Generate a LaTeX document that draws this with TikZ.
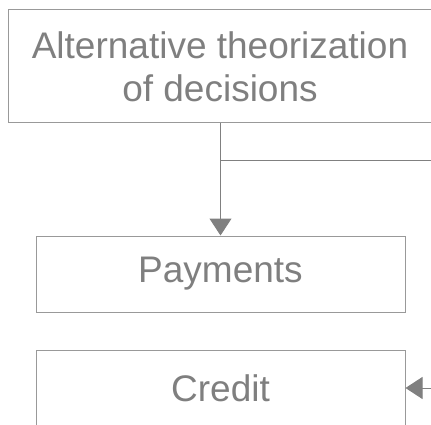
\documentclass[tikz,border=0pt]{standalone}
\usepackage{fontspec}
\setmainfont{Liberation Sans}
\usetikzlibrary{arrows.meta}
\definecolor{txtgray}{HTML}{7F7F7F}
\definecolor{boxgray}{HTML}{999999}
\definecolor{linegray}{HTML}{808080}
\tikzset{
  box/.style={draw=boxgray, line width=1pt, text=txtgray, align=center,
    inner sep=0pt, font=\fontsize{37}{43}\selectfont},
  conn/.style={draw=linegray, line width=1pt},
  arrowed/.style={-{Triangle[length=17pt,width=22pt]}, color=linegray}
}
\begin{document}
\begin{tikzpicture}[x=1pt,y=1pt]
  \useasboundingbox (0,0) rectangle (431,-425);
  \clip (0,0) rectangle (431,-425);
  % boxes
  \node[box, minimum width=424pt, minimum height=113pt] (theory) at (220,-66.5)
    {Alternative theorization\\of decisions};
  \node[box, minimum width=369pt, minimum height=76pt] (pay) at (220.5,-274) {Payments};
  \node[box, minimum width=369pt, minimum height=76pt] (credit) at (220.5,-388) {Credit};
  % connectors
  \coordinate (split) at (220,-161);
  \coordinate (splitend) at (440,-161);
  \coordinate (cin) at (440,-388);
  \draw[conn, arrowed] (theory.south -| pay.north) -- (pay.north);
  \draw[conn] (split) -- (splitend);
  \draw[conn, arrowed] (cin) -- (credit.east);
\end{tikzpicture}
\end{document}
